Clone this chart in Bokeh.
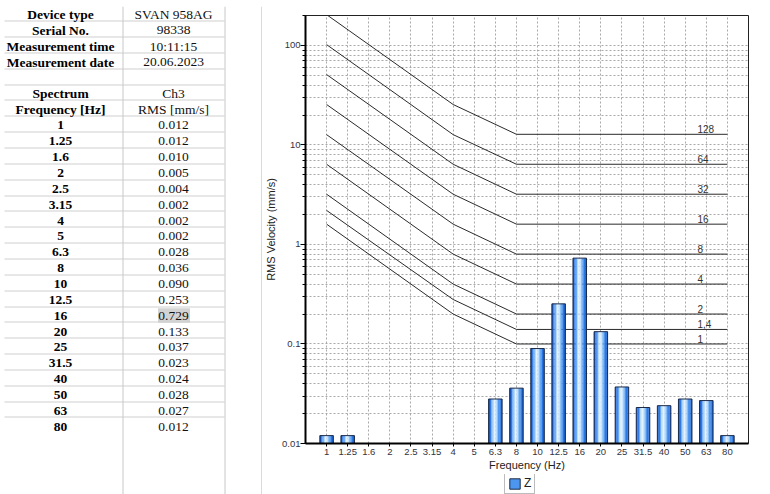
from bokeh.plotting import figure
from bokeh.layouts import row, column
from bokeh.models import Range1d, FixedTicker, NumeralTickFormatter, Legend, LegendItem
from bokeh.core.properties import value
from bokeh.embed import file_html
from bokeh.resources import INLINE

# ---------------- data ----------------
freqs = ["1", "1.25", "1.6", "2", "2.5", "3.15", "4", "5", "6.3", "8",
         "10", "12.5", "16", "20", "25", "31.5", "40", "50", "63", "80"]
rms = [0.012, 0.012, 0.010, 0.005, 0.004, 0.002, 0.002, 0.002, 0.028, 0.036,
       0.090, 0.253, 0.729, 0.133, 0.037, 0.023, 0.024, 0.028, 0.027, 0.012]

info_labels = ["Device type", "Serial No.", "Measurement time", "Measurement date"]
info_values = ["SVAN 958AG", "98338", "10:11:15", "20.06.2023"]
spectrum_header = ["Spectrum", "Ch3"]
column_header = ["Frequency [Hz]", "RMS [mm/s]"]

series_name = "Z"

# limit curves (read at their break frequencies)
curve_freqs = ["1", "4", "8", "80"]
curve_names = ["1", "1,4", "2", "4", "8", "16", "32", "64", "128"]
curve_1 = [1.6, 0.2, 0.1, 0.1]
curve_1_4 = [2.2, 0.28, 0.14, 0.14]
curve_2 = [3.2, 0.4, 0.2, 0.2]
curve_4 = [6.4, 0.8, 0.4, 0.4]
curve_8 = [12.7, 1.6, 0.8, 0.8]
curve_16 = [25.5, 3.2, 1.6, 1.6]
curve_32 = [51.0, 6.4, 3.2, 3.2]
curve_64 = [102.0, 12.7, 6.4, 6.4]
curve_128 = [204.0, 25.5, 12.8, 12.8]
curves = [curve_1, curve_1_4, curve_2, curve_4, curve_8,
          curve_16, curve_32, curve_64, curve_128]

BAR_FILL = "#4c96f0"
BAR_LINE = "#1c2a48"

# ---------------- top rule ----------------
strip = figure(frame_width=770, frame_height=6, x_range=Range1d(0, 770), y_range=Range1d(6, 0),
               x_axis_location=None, y_axis_location=None, min_border=0,
               toolbar_location=None, output_backend="svg", outline_line_color=None)
strip.grid.visible = False
strip.segment(x0=[0], x1=[770], y0=[4.5], y1=[4.5], line_color="#b4b4b4", line_width=1)

# ---------------- table ----------------
tab = figure(frame_width=262, frame_height=488, x_range=Range1d(0, 262), y_range=Range1d(494, 6),
             x_axis_location=None, y_axis_location=None, min_border=0,
             toolbar_location=None, output_backend="svg", outline_line_color=None)
tab.grid.visible = False

rows_left = info_labels + [""] + [spectrum_header[0], column_header[0]] + freqs
rows_right = info_values + [""] + [spectrum_header[1], column_header[1]] + [f"{v:.3f}" for v in rms]
row0, dy = 14.0, 15.85
ys = [row0 + dy * i for i in range(len(rows_left))]

# highlighted cell (largest value)
imax = rms.index(max(rms))
hy = ys[len(rows_left) - len(rms) + imax]
tab.quad(left=[157.5], right=[189.5], top=[hy - 7.5], bottom=[hy + 7], fill_color="#d3d3d3", line_color=None)

line_ys = [int(row0 + 6.7 + dy * k) + 0.5 for k in range(len(rows_left) - 1)]
tab.segment(x0=[4] * len(line_ys), x1=[224] * len(line_ys), y0=line_ys, y1=line_ys,
            line_color="#cfcfcf", line_width=1)
tab.segment(x0=[122.5, 224.5], x1=[122.5, 224.5], y0=[6, 6], y1=[494, 494],
            line_color="#c8c8c8", line_width=1)
tab.segment(x0=[261.5], x1=[261.5], y0=[6], y1=[494], line_color="#b4b4b4", line_width=1)

tab.text(x=[60] * len(rows_left), y=ys, text=rows_left, text_font=value("Liberation Serif"),
         text_font_style="bold", text_font_size="13.5px", text_align="center",
         text_baseline="middle", text_color="#000000")
tab.text(x=[173] * len(rows_right), y=ys, text=rows_right, text_font=value("Liberation Serif"),
         text_font_style="normal", text_font_size="13.5px", text_align="center",
         text_baseline="middle", text_color="#111111")

# ---------------- chart ----------------
x_idx = list(range(len(freqs)))
p = figure(frame_width=443, frame_height=428, min_border_left=43, min_border_right=22,
           min_border_top=9, min_border_bottom=31,
           x_range=Range1d(-1, len(freqs)), y_range=Range1d(0.01, 200), y_axis_type="log",
           toolbar_location=None, output_backend="svg", background_fill_color="white",
           outline_line_color="#222222", outline_line_width=1)

major_y = [0.01, 0.1, 1, 10, 100]
minor_y = [m * 10.0 ** e for e in range(-2, 3) for m in range(2, 10)]
p.yaxis.ticker = FixedTicker(ticks=major_y, minor_ticks=minor_y)
p.yaxis.formatter = NumeralTickFormatter(format="0.[00]")
p.xaxis.ticker = FixedTicker(ticks=x_idx)
p.xaxis.major_label_overrides = {i: f for i, f in zip(x_idx, freqs)}

for ax in (p.xaxis, p.yaxis):
    ax.axis_line_width = 2
    ax.axis_line_color = "#000000"
    ax.major_tick_in = 0
    ax.minor_tick_in = 0
    ax.major_tick_line_color = "#000000"
    ax.minor_tick_line_color = "#000000"
    ax.major_label_text_font = "Liberation Sans"
    ax.major_label_text_font_size = "9.5px"
    ax.major_label_text_color = "#333340"
    ax.axis_label_text_font = "Liberation Sans"
    ax.axis_label_text_font_size = "11px"
    ax.axis_label_text_font_style = "normal"
    ax.axis_label_text_color = "#222222"

p.yaxis.major_tick_out = 5
p.yaxis.minor_tick_out = 3
p.yaxis.major_label_standoff = 0
p.yaxis.axis_label = "RMS Velocity (mm/s)"
p.yaxis.axis_label_standoff = 2
p.xaxis.major_tick_out = 3
p.xaxis.minor_tick_out = 0
p.xaxis.major_label_standoff = 2
p.xaxis.axis_label = "Frequency (Hz)"
p.xaxis.axis_label_standoff = 1

p.xgrid.ticker = FixedTicker(ticks=x_idx)
p.xgrid.grid_line_color = "#a8a8a8"
p.xgrid.grid_line_dash = "2 2"
p.ygrid.grid_line_color = "#a8a8a8"
p.ygrid.grid_line_dash = "2 2"
p.ygrid.minor_grid_line_color = "#a8a8a8"
p.ygrid.minor_grid_line_dash = "2 2"

# limit curves
curve_x = [freqs.index(f) for f in curve_freqs]
for vals in curves:
    p.line(x=curve_x, y=vals, line_color="#2a2a2a", line_width=1)
p.text(x=[curve_x[-1]] * len(curves), y=[c[-1] for c in curves], text=curve_names,
       x_offset=-30, y_offset=-1, text_align="left", text_baseline="bottom",
       text_font=value("Liberation Sans"), text_font_size="10px", text_color="#333333")

# bars with a simulated horizontal gradient
strip_colors = ["#1658c8", "#2d7ae8", "#6aaaf6", "#b6dafe", "#e4f2ff",
                "#c8e4fe", "#8cc2f8", "#4c96f0", "#2a78e4", "#1a62d2"]
bar_w = 0.64
sw = bar_w / len(strip_colors)
for k, c in enumerate(strip_colors):
    xs = [i - bar_w / 2 + sw * (k + 0.5) for i in x_idx]
    p.vbar(x=xs, top=rms, bottom=0.01, width=sw * 1.08, fill_color=c, line_color=None)
p.vbar(x=x_idx, top=rms, bottom=0.01, width=bar_w, fill_color=None,
       line_color=BAR_LINE, line_width=1)

# ---------------- legend strip under the chart ----------------
# the key renderer uses the same series but lies outside this strip's ranges
leg = figure(frame_width=508, frame_height=20, x_range=Range1d(100, 101), y_range=Range1d(10, 11),
             x_axis_location=None, y_axis_location=None, min_border=0,
             toolbar_location=None, output_backend="svg", outline_line_color=None)
leg.grid.visible = False
key = leg.vbar(x=x_idx, top=rms, bottom=0, width=bar_w, fill_color=BAR_FILL,
               line_color=BAR_LINE, line_width=1)
legend = Legend(items=[LegendItem(label=value(series_name), renderers=[key])],
                location=(242, 0), orientation="horizontal",
                border_line_color="#7a7a7a", border_line_width=1,
                background_fill_color="white", background_fill_alpha=1,
                padding=3, margin=0, glyph_width=13, glyph_height=13,
                label_standoff=3, label_width=7, label_text_font="Liberation Sans",
                label_text_font_size="12px", label_text_color="#222222",
                label_height=13)
leg.add_layout(legend)

layout = column(strip, row(column(tab), column(p, leg)))
open("out.html", "w").write(file_html(layout, INLINE))
